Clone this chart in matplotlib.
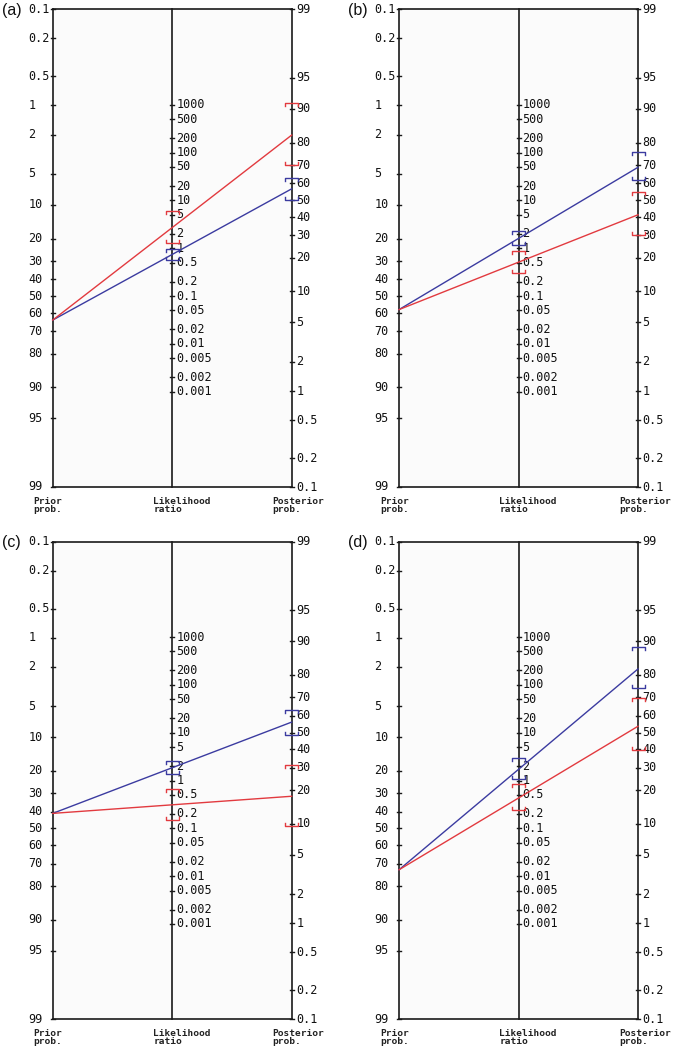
import numpy as np
import matplotlib
matplotlib.use("Agg")
import matplotlib.pyplot as plt

# ---------------- data ----------------
panel_labels = ["(a)", "(b)", "(c)", "(d)"]
prior_prob = [0.64, 0.58, 0.41, 0.73]

red_lr = [2.7, 0.51, 0.31, 0.43]
red_lr_low = [1.3, 0.31, 0.15, 0.24]
red_lr_high = [5.9, 0.88, 0.66, 0.85]

blue_lr = [0.74, 1.6, 1.85, 1.71]
blue_lr_low = [0.57, 1.18, 1.36, 1.08]
blue_lr_high = [0.95, 2.3, 2.5, 2.9]

prior_ticks = [0.1, 0.2, 0.5, 1, 2, 5, 10, 20, 30, 40, 50, 60, 70, 80, 90, 95, 99]
post_ticks = [99, 95, 90, 80, 70, 60, 50, 40, 30, 20, 10, 5, 2, 1, 0.5, 0.2, 0.1]
lr_ticks = [1000, 500, 200, 100, 50, 20, 10, 5, 2, 1, 0.5, 0.2, 0.1, 0.05, 0.02,
            0.01, 0.005, 0.002, 0.001]
axis_titles = ["Prior\nprob.", "Likelihood\nratio", "Posterior\nprob."]

RED = "#e23a3f"
BLUE = "#3b3ba0"
FRAME = "#1a1a1a"

# ---------------- scales ----------------
def logit(p):
    p = np.asarray(p, dtype=float)
    return np.log(p / (1 - p))

Y_TOP = float(logit(0.001))
Y_BOT = float(logit(0.99))
D = float(logit(0.999) - logit(0.99))


def y_prior(p):
    return logit(p)


def y_post(p):
    return -logit(p) - D


def y_lr(lr):
    return (-np.log(lr) - D) / 2.0


def fmt(v):
    s = ("%g" % v)
    return s

# ---------------- figure ----------------
W, H = 675, 1052
fig = plt.figure(figsize=(W / 100, H / 100), dpi=100)
fig.patch.set_facecolor("white")

lefts = [52.7, 399.0, 52.7, 399.0]
tops = [9.4, 9.4, 541.7, 541.7]
ax_w = 239.0
ax_h = 477.6

PT = 0.72  # points per pixel at dpi 100
mono = "DejaVu Sans Mono"

for i in range(4):
    l, t = lefts[i], tops[i]
    ax = fig.add_axes([l / W, 1 - (t + ax_h) / H, ax_w / W, ax_h / H])
    ax.set_xlim(0, 1)
    ax.set_ylim(Y_BOT, Y_TOP)
    ax.set_facecolor("#fbfbfb")
    for s in ax.spines.values():
        s.set_visible(False)
    ax.set_xticks([])
    ax.set_yticks([])

    # frame: top, bottom, left, mid, right
    ax.plot([0, 1], [Y_TOP, Y_TOP], color=FRAME, lw=1.2, clip_on=False, zorder=3)
    ax.plot([0, 1], [Y_BOT, Y_BOT], color=FRAME, lw=1.2, clip_on=False, zorder=3)
    for xx in (0, 0.5, 1):
        ax.plot([xx, xx], [Y_TOP, Y_BOT], color=FRAME, lw=1.2, clip_on=False, zorder=3)

    tick_dx = 2.0 / ax_w
    # prior ticks
    for v in prior_ticks:
        y = float(y_prior(v / 100.0))
        ax.plot([-tick_dx, tick_dx], [y, y], color=FRAME, lw=1.0, clip_on=False, zorder=3)
        ax.annotate(fmt(v), xy=(0, y), xytext=(-24.5 * PT, 0), textcoords="offset points",
                    ha="left", va="center", fontsize=8.5, family=mono, color="#111111")
    # posterior ticks
    for v in post_ticks:
        y = float(y_post(v / 100.0))
        ax.plot([1 - tick_dx, 1 + tick_dx], [y, y], color=FRAME, lw=1.0, clip_on=False, zorder=3)
        ax.annotate(fmt(v), xy=(1, y), xytext=(4.5 * PT, 0), textcoords="offset points",
                    ha="left", va="center", fontsize=8.5, family=mono, color="#111111")
    # LR ticks
    for v in lr_ticks:
        y = float(y_lr(v))
        ax.plot([0.5 - tick_dx, 0.5 + tick_dx], [y, y], color=FRAME, lw=1.0, clip_on=False, zorder=3)
        ax.annotate(fmt(v), xy=(0.5, y), xytext=(4.0 * PT, 0), textcoords="offset points",
                    ha="left", va="center", fontsize=8.5, family=mono, color="#111111")

    # axis titles
    for xx, txt in zip((0, 0.5, 1), axis_titles):
        ax.annotate(txt, xy=(xx, Y_BOT), xytext=(-19 * PT, -10 * PT), textcoords="offset points",
                    ha="left", va="top", fontsize=6.8, family=mono, fontweight="bold",
                    color="#222222", linespacing=0.85)

    # panel label
    ax.annotate(panel_labels[i], xy=(0, Y_TOP), xytext=(-51 * PT, -1 * PT), textcoords="offset points",
                ha="left", va="center", fontsize=11.5, family="Liberation Sans", color="#111111")

    # lines + confidence brackets
    bw = 6.5 / ax_w
    bh = 3.0 / (ax_h / (Y_BOT - Y_TOP))
    series = [
        (BLUE, blue_lr[i], blue_lr_low[i], blue_lr_high[i]),
        (RED, red_lr[i], red_lr_low[i], red_lr_high[i]),
    ]
    p0 = prior_prob[i]
    for color, lr, lo, hi in series:
        odds_post = p0 / (1 - p0) * lr
        post = odds_post / (1 + odds_post)
        ax.plot([0, 1], [float(y_prior(p0)), float(y_post(post))], color=color, lw=1.0,
                clip_on=False, zorder=4)
        for lrv, sign in ((hi, 1), (lo, -1)):
            o = p0 / (1 - p0) * lrv
            pp = o / (1 + o)
            for xc, y in ((0.5, float(y_lr(lrv))), (1.0, float(y_post(pp)))):
                # sign=+1 upper bound -> ends point down (toward larger y)
                ax.plot([xc - bw, xc - bw, xc + bw, xc + bw],
                        [y + sign * bh, y, y, y + sign * bh],
                        color=color, lw=1.0, clip_on=False, zorder=5)

fig.savefig("out.png", dpi=100, facecolor="white")
